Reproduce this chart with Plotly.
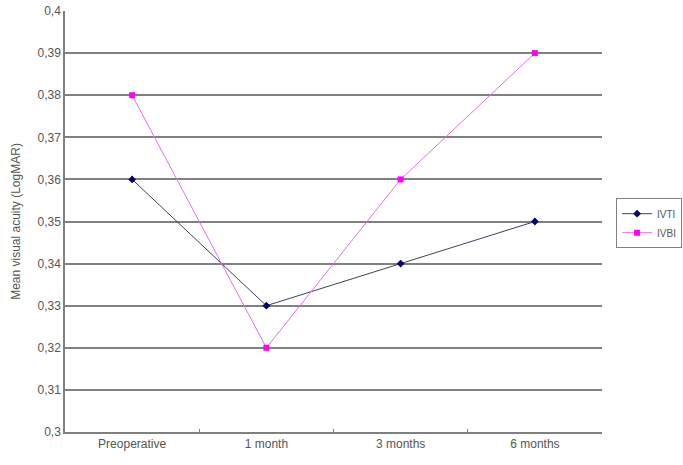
import plotly.graph_objects as go

categories = ["Preoperative", "1 month", "3 months", "6 months"]
ivti = [0.36, 0.33, 0.34, 0.35]
ivbi = [0.38, 0.32, 0.36, 0.39]
ytick_vals = [0.30, 0.31, 0.32, 0.33, 0.34, 0.35, 0.36, 0.37, 0.38, 0.39, 0.40]
ytick_text = ["0,3", "0,31", "0,32", "0,33", "0,34", "0,35", "0,36", "0,37", "0,38", "0,39", "0,4"]

fig = go.Figure()
fig.add_trace(go.Scatter(x=categories, y=ivti, name="IVTI", mode="lines+markers",
                         line=dict(color="#40405a", width=1),
                         marker=dict(symbol="diamond", size=6, color="#000066")))
fig.add_trace(go.Scatter(x=categories, y=ivbi, name="IVBI", mode="lines+markers",
                         line=dict(color="#e070e0", width=1),
                         marker=dict(symbol="square", size=6, color="#ff00ff")))

fig.update_layout(
    width=683, height=465,
    margin=dict(l=65, r=81, t=11, b=33, autoexpand=False),
    paper_bgcolor="white", plot_bgcolor="white",
    font=dict(family="Liberation Sans, Arial, sans-serif", size=12, color="#555555"),
    showlegend=True,
    legend=dict(xref="container", yref="container", x=0.902, y=0.52,
                xanchor="left", yanchor="middle",
                bordercolor="#808080", borderwidth=1, bgcolor="white",
                font=dict(size=10, color="#555555"),
                itemwidth=30, tracegroupgap=0),
)
fig.update_xaxes(type="category", range=[-0.5, 3.5], showgrid=False,
                 showline=True, linecolor="#808080", linewidth=1.5,
                 tickson="boundaries", ticks="inside", ticklen=3, tickcolor="#808080",
                 tickfont=dict(size=12, color="#555555"))
fig.update_yaxes(range=[0.3, 0.4], tickvals=ytick_vals, ticktext=ytick_text,
                 showgrid=True, gridcolor="#808080", gridwidth=1.5,
                 showline=True, linecolor="#808080", linewidth=1.5,
                 zeroline=False, ticks="",
                 title=dict(text="Mean visual acuity (LogMAR)", font=dict(size=12, color="#555555"), standoff=14),
                 tickfont=dict(size=12, color="#555555"))

fig.write_html("out.html")
